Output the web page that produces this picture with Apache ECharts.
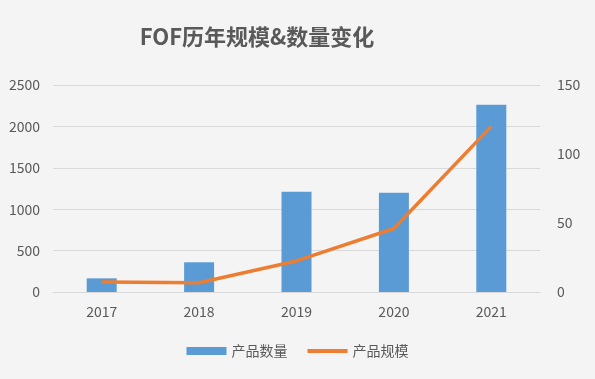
<!DOCTYPE html>
<html>
<head>
<meta charset="utf-8">
<script src="https://cdn.jsdelivr.net/npm/echarts@6/dist/echarts.min.js"></script>
<style>
  html, body { margin: 0; padding: 0; background: #f4f4f4; }
  #chart { width: 595px; height: 379px; }
</style>
</head>
<body>
<div id="chart"></div>
<script>
  // 年份
  var years = ['2017', '2018', '2019', '2020', '2021']
  // 产品数量（左轴）
  var countData = [165, 359, 1211, 1199, 2262]
  // 产品规模（右轴）
  var scaleData = [7.2, 6.7, 22.5, 46, 120]

  var textColor = '#595959'
  var font = '"Noto Sans CJK SC", "Noto Sans", sans-serif'
  var plain = function (v) { return String(v) }

  var myChart = echarts.init(document.getElementById('chart'))
  var option = {
    backgroundColor: '#f4f4f4',
    title: {
      text: 'FOF历年规模&数量变化',
      left: 252,
      top: 21,
      textAlign: 'center',
      textStyle: {
        color: textColor,
        fontSize: 22,
        fontWeight: 'bold',
        fontFamily: font,
      },
    },
    legend: {
      bottom: 16,
      left: 'center',
      itemWidth: 40,
      itemHeight: 8,
      itemGap: 18,
      textStyle: { color: textColor, fontSize: 14, fontFamily: font },
      data: [
        { name: '产品数量', icon: 'rect' },
        { name: '产品规模', itemStyle: { opacity: 0 }, lineStyle: { width: 4 } },
      ],
    },
    grid: {
      left: 53,
      right: 55,
      top: 85,
      bottom: 87,
    },
    xAxis: {
      type: 'category',
      data: years,
      axisLine: { lineStyle: { color: '#d9d9d9' } },
      axisTick: { show: false },
      axisLabel: { color: textColor, fontSize: 14, margin: 13, fontFamily: font },
    },
    yAxis: [
      {
        type: 'value',
        min: 0,
        max: 2500,
        interval: 500,
        axisLine: { show: false },
        axisTick: { show: false },
        splitLine: { lineStyle: { color: '#d9d9d9' } },
        axisLabel: { color: textColor, fontSize: 14, margin: 13, fontFamily: font, formatter: plain },
      },
      {
        type: 'value',
        min: 0,
        max: 150,
        interval: 50,
        axisLine: { show: false },
        axisTick: { show: false },
        splitLine: { show: false },
        axisLabel: { color: textColor, fontSize: 14, margin: 17, fontFamily: font, formatter: plain },
      },
    ],
    series: [
      {
        name: '产品数量',
        type: 'bar',
        data: countData,
        barWidth: 30,
        itemStyle: { color: '#5b9bd5' },
      },
      {
        name: '产品规模',
        type: 'line',
        yAxisIndex: 1,
        data: scaleData,
        symbol: 'none',
        lineStyle: { color: '#ed7d31', width: 3.5 },
        itemStyle: { color: '#ed7d31' },
      },
    ],
  }
  myChart.setOption(option)
</script>
</body>
</html>
